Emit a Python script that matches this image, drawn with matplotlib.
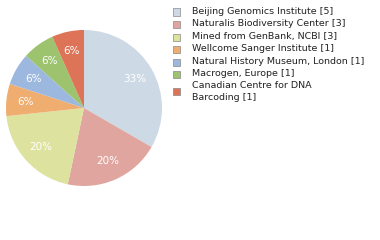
import matplotlib
matplotlib.use("Agg")
import matplotlib.pyplot as plt
from matplotlib.patches import Rectangle

# data
institutes = [
    "Beijing Genomics Institute",
    "Naturalis Biodiversity Center",
    "Mined from GenBank, NCBI",
    "Wellcome Sanger Institute",
    "Natural History Museum, London",
    "Macrogen, Europe",
    "Canadian Centre for DNA\nBarcoding",
]
counts = [5, 3, 3, 1, 1, 1, 1]
colors = ["#cddae6", "#e0a59e", "#dde29e", "#f0ad70", "#9db8de", "#9dc36f", "#dd7458"]

W, H = 380, 240
fig = plt.figure(figsize=(W / 100, H / 100), dpi=100)

# pie: centre (84,108) px, radius 78 px
cx, cy, r = 84, 108, 78
ax = fig.add_axes([(cx - r) / W, (H - cy - r) / H, 2 * r / W, 2 * r / H])
wedges, texts, autotexts = ax.pie(
    counts, colors=colors, startangle=90, counterclock=False,
    autopct=lambda p: f"{int(p + 1e-6)}%",
    pctdistance=0.75, radius=1.0,
    wedgeprops=dict(linewidth=0),
    textprops=dict(color="white", fontsize=7.5),
)
ax.set_xlim(-1, 1)
ax.set_ylim(-1, 1)
ax.set_aspect("auto")
ax.axis("off")

# legend drawn by hand
row_y = [12, 24.5, 37, 49.5, 62, 74.5, 87]
for i, (name, n, c) in enumerate(zip(institutes, counts, colors)):
    y = row_y[i]
    sq_y = y + (4 if "\n" in name else 0)
    fig.patches.append(Rectangle((173 / W, 1 - (sq_y + 3.5) / H), 7 / W, 7 / H,
                                 transform=fig.transFigure, facecolor=c,
                                 edgecolor="#888888", linewidth=0.5))
    fig.text(192 / W, 1 - (y - 5.5) / H, f"{name} [{n}]", fontsize=6.8,
             color="#222222", va="top", ha="left", linespacing=1.35)

fig.savefig("out.png", dpi=100)
